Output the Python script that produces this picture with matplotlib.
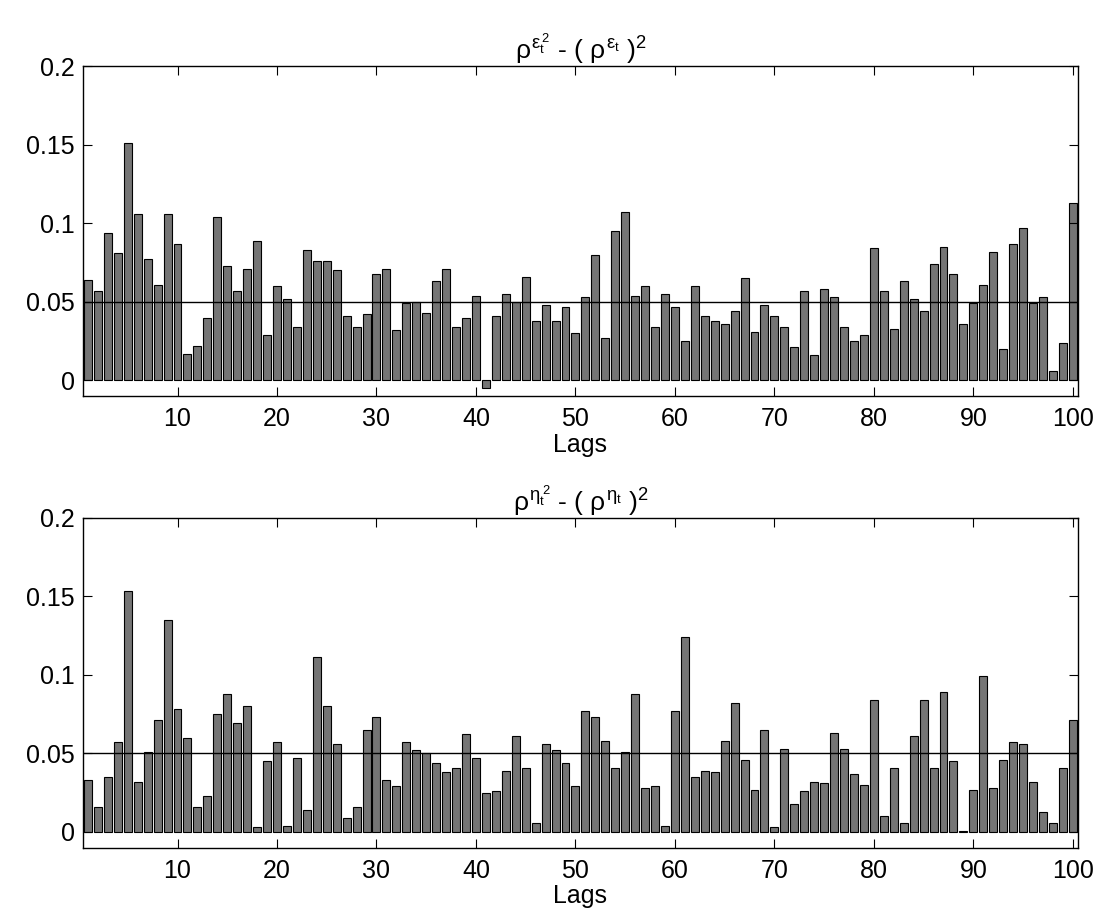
import matplotlib
matplotlib.use("Agg")
import matplotlib.pyplot as plt
import numpy as np

plt.rcParams['font.family'] = ['Liberation Sans', 'DejaVu Sans']
plt.rcParams['mathtext.fontset'] = 'custom'
plt.rcParams['mathtext.rm'] = 'Liberation Sans'
plt.rcParams['mathtext.it'] = 'Liberation Sans'

lags = np.arange(1, 101)

eps_vals = [
    0.064, 0.057, 0.094, 0.081, 0.151, 0.106, 0.077, 0.061, 0.106, 0.087,
    0.017, 0.022, 0.040, 0.104, 0.073, 0.057, 0.071, 0.089, 0.029, 0.060,
    0.052, 0.034, 0.083, 0.076, 0.076, 0.070, 0.041, 0.034, 0.042, 0.068,
    0.071, 0.032, 0.049, 0.050, 0.043, 0.063, 0.071, 0.034, 0.040, 0.054,
    -0.005, 0.041, 0.055, 0.050, 0.066, 0.038, 0.048, 0.038, 0.047, 0.030,
    0.053, 0.080, 0.027, 0.095, 0.107, 0.054, 0.060, 0.034, 0.055, 0.047,
    0.025, 0.060, 0.041, 0.038, 0.036, 0.044, 0.065, 0.031, 0.048, 0.041,
    0.034, 0.021, 0.057, 0.016, 0.058, 0.053, 0.034, 0.025, 0.029, 0.084,
    0.057, 0.033, 0.063, 0.052, 0.044, 0.074, 0.085, 0.068, 0.036, 0.049,
    0.061, 0.082, 0.020, 0.087, 0.097, 0.049, 0.053, 0.006, 0.024, 0.113,
]

eta_vals = [
    0.033, 0.016, 0.035, 0.057, 0.153, 0.032, 0.051, 0.071, 0.135, 0.078,
    0.060, 0.016, 0.023, 0.075, 0.088, 0.069, 0.080, 0.003, 0.045, 0.057,
    0.004, 0.047, 0.014, 0.111, 0.080, 0.056, 0.009, 0.016, 0.065, 0.073,
    0.033, 0.029, 0.057, 0.052, 0.050, 0.044, 0.038, 0.041, 0.062, 0.047,
    0.025, 0.026, 0.039, 0.061, 0.041, 0.006, 0.056, 0.052, 0.044, 0.029,
    0.077, 0.073, 0.058, 0.041, 0.051, 0.088, 0.028, 0.029, 0.004, 0.077,
    0.124, 0.035, 0.039, 0.038, 0.058, 0.082, 0.046, 0.027, 0.065, 0.003,
    0.053, 0.018, 0.026, 0.032, 0.031, 0.063, 0.053, 0.037, 0.030, 0.084,
    0.010, 0.041, 0.006, 0.061, 0.084, 0.041, 0.089, 0.045, 0.0003, 0.027,
    0.099, 0.028, 0.046, 0.057, 0.056, 0.032, 0.013, 0.006, 0.041, 0.071,
]

titles = [r'$\rho^{\varepsilon_t^{\,2}}$ - ( $\rho^{\varepsilon_t}$ )$^2$',
          r'$\rho^{\eta_t^{\,2}}$ - ( $\rho^{\eta_t}$ )$^2$']
threshold = 0.05
yticks = [0, 0.05, 0.1, 0.15, 0.2]
ytick_labels = ['0', '0.05', '0.1', '0.15', '0.2']
xticks = [10, 20, 30, 40, 50, 60, 70, 80, 90, 100]

fig = plt.figure(figsize=(10.98, 9.17), dpi=100)
positions = [[0.0756, 0.568, 0.906, 0.360], [0.0756, 0.0756, 0.906, 0.360]]

for pos, vals, title in zip(positions, [eps_vals, eta_vals], titles):
    ax = fig.add_axes(pos)
    ax.bar(lags, vals, width=0.8, color='#757575', edgecolor='black', linewidth=0.8)
    ax.axhline(threshold, color='black', linewidth=1.0)
    ax.set_xlim(0.5, 100.5)
    ax.set_ylim(-0.01, 0.2)
    ax.set_xticks(xticks)
    ax.set_yticks(yticks)
    ax.set_yticklabels(ytick_labels)
    ax.tick_params(direction='in', top=True, right=True, length=6.5, width=0.8,
                   labelsize=18)
    ax.tick_params(axis='x', pad=8)
    ax.tick_params(axis='y', pad=6)
    ax.set_xlabel('Lags', fontsize=18, labelpad=1)
    ax.set_title(title, fontsize=19, pad=5)
    for s in ax.spines.values():
        s.set_linewidth(1.0)

fig.savefig('out.png', dpi=100)
